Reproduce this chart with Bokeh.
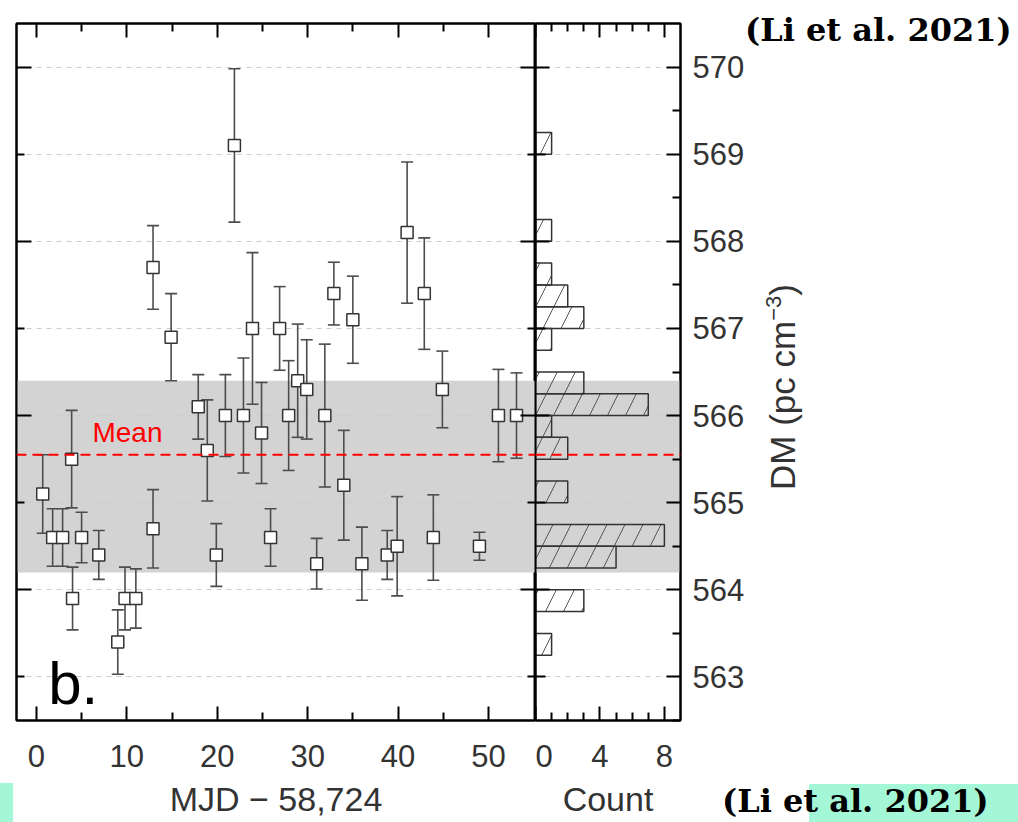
import numpy as np
from bokeh.plotting import figure
from bokeh.layouts import row
from bokeh.models import (BoxAnnotation, Span, Label, Whisker, TeeHead, ColumnDataSource,
                          LinearAxis, FixedTicker, Range1d, Grid, Div)
from bokeh.embed import file_html
from bokeh.resources import INLINE

# ---------------- data ----------------
mjd = [0.7, 1.8, 2.9, 3.9, 4.0, 5.0, 6.9, 9.0, 9.8, 11.0, 12.9, 12.9, 14.9, 17.9, 18.9,
       19.9, 20.9, 21.9, 22.9, 23.9, 24.9, 25.9, 26.9, 27.9, 28.9, 29.9, 31.0, 31.9,
       32.9, 34.0, 35.0, 36.0, 38.8, 39.9, 41.0, 42.9, 43.9, 44.9, 49.0, 51.1, 53.1]
dm = [565.1, 564.6, 564.6, 565.5, 563.9, 564.6, 564.4, 563.4, 563.9, 563.9, 564.7, 567.7,
      566.9, 566.1, 565.6, 564.4, 566.0, 569.1, 566.0, 567.0, 565.8, 564.6, 567.0, 566.0,
      566.4, 566.3, 564.3, 566.0, 567.4, 565.2, 567.1, 564.3, 564.4, 564.5, 568.1, 567.4,
      564.6, 566.3, 564.5, 566.0, 566.0]
dm_err = [0.45, 0.33, 0.33, 0.56, 0.36, 0.29, 0.28, 0.37, 0.36, 0.34, 0.45, 0.48,
          0.50, 0.37, 0.58, 0.36, 0.47, 0.88, 0.66, 0.87, 0.58, 0.33, 0.48, 0.63,
          0.65, 0.57, 0.29, 0.82, 0.36, 0.63, 0.50, 0.42, 0.28, 0.57, 0.81, 0.64,
          0.49, 0.44, 0.16, 0.53, 0.49]
dm_mean = 565.55
band_lo, band_hi = 564.2, 566.4
bin_width = 0.25
bin_edges = np.arange(563.0, 569.5 + 1e-9, bin_width)

mjd_major = [0, 10, 20, 30, 40, 50]
mjd_minor = [5, 15, 25, 35, 45]
dm_even = [564, 566, 568, 570]
dm_odd = [563, 565, 567, 569]
dm_labels = [563, 564, 565, 566, 567, 568, 569, 570]
dm_half = [562.5, 563.5, 564.5, 565.5, 566.5, 567.5, 568.5, 569.5]
count_major = [0, 4, 8]
count_minor = [1, 2, 3, 5, 6, 7]

counts, _ = np.histogram(dm, bins=bin_edges)
centers = (bin_edges[:-1] + bin_edges[1:]) / 2
nz = counts > 0
hist_src = ColumnDataSource(dict(y=centers[nz], right=counts[nz]))

src = ColumnDataSource(dict(x=mjd, y=dm,
                            lo=[d - e for d, e in zip(dm, dm_err)],
                            hi=[d + e for d, e in zip(dm, dm_err)]))

FONT = "Liberation Sans"
TXT = "#333333"
BAND = "#d3d3d3"
GRID = "#cccccc"
CYAN = "#a3f7d6"


def axis(ticks, minor, tin, minor_in, labels=False, **kw):
    ax = LinearAxis(ticker=FixedTicker(ticks=ticks, minor_ticks=minor), **kw)
    ax.major_tick_in = tin
    ax.major_tick_out = 0
    ax.minor_tick_in = minor_in
    ax.minor_tick_out = 0
    ax.axis_line_width = 2
    ax.axis_line_color = "black"
    ax.major_tick_line_width = 2
    ax.minor_tick_line_width = 2
    ax.major_tick_line_color = "black"
    ax.minor_tick_line_color = "black"
    if labels:
        ax.major_label_text_font = FONT
        ax.major_label_text_font_size = "31px"
        ax.major_label_text_color = TXT
    else:
        ax.major_label_overrides = {t: "" for t in ticks}
        ax.major_label_text_font_size = "1px"
        ax.major_label_standoff = 0
    return ax


def common(p):
    for g in p.grid:
        g.visible = False
    p.add_layout(BoxAnnotation(bottom=band_lo, top=band_hi, fill_color=BAND, fill_alpha=1,
                               line_alpha=0, level="underlay"))
    p.add_layout(Grid(dimension=1, ticker=FixedTicker(ticks=dm_labels),
                      grid_line_color=GRID, grid_line_dash="5 5", grid_line_width=1))
    p.outline_line_color = "black"
    p.outline_line_width = 2
    p.background_fill_color = "white"
    p.border_fill_color = "white"


# ---------------- main panel ----------------
pa = figure(width=535, height=822, x_range=Range1d(-2.2, 55.2), y_range=Range1d(562.5, 570.5),
            output_backend="svg", toolbar_location=None,
            x_axis_location=None, y_axis_location=None,
            min_border_left=16, min_border_right=0, min_border_top=23, min_border_bottom=102)
common(pa)

pa.add_layout(axis(dm_even, dm_odd, 15, 8), "left")
pa.add_layout(axis(dm_even, dm_odd, 15, 8), "right")
pa.add_layout(axis(mjd_major, mjd_minor, 14, 8), "above")
bx = axis(mjd_major, mjd_minor, 14, 8, labels=True)
bx.major_label_standoff = 24
bx.axis_label = "MJD \u2212 58,724"
bx.axis_label_text_font = FONT
bx.axis_label_text_font_size = "34px"
bx.axis_label_text_font_style = "normal"
bx.axis_label_text_color = TXT
bx.axis_label_standoff = 10
pa.add_layout(bx, "below")

pa.add_layout(Whisker(base="x", lower="lo", upper="hi", source=src, dimension="height",
                      line_color="#4d4d4d", line_width=1.6,
                      upper_head=TeeHead(size=12, line_color="#4d4d4d", line_width=1.6),
                      lower_head=TeeHead(size=12, line_color="#4d4d4d", line_width=1.6)))
pa.scatter("x", "y", source=src, marker="square", size=12, fill_color="white",
           line_color="#333333", line_width=1.5)
pa.add_layout(Span(location=dm_mean, dimension="width", line_color="red",
                   line_dash="10 6", line_width=2))
pa.add_layout(Label(x=6.2, y=565.81, text="Mean", text_color="red", text_font=FONT,
                    text_font_size="28px", text_baseline="alphabetic"))
pa.add_layout(Label(x=1.3, y=562.93, text="b.", text_color="black", text_font=FONT,
                    text_font_size="60px", text_baseline="alphabetic"))

# ---------------- histogram panel ----------------
pb = figure(width=483, height=822, x_range=Range1d(0, 9), y_range=pa.y_range,
            output_backend="svg", toolbar_location=None,
            x_axis_location=None, y_axis_location=None,
            min_border_left=0, min_border_right=338, min_border_top=23, min_border_bottom=102)
common(pb)

pb.add_layout(axis(dm_even, dm_odd, 14, 10), "left")
ry = axis(dm_labels, dm_half, 14, 8, labels=True)
ry.major_label_standoff = 12
pb.add_layout(ry, "right")
pb.add_layout(axis(count_major, count_minor, 14, 8), "above")
cx = axis(count_major, count_minor, 14, 8, labels=True)
cx.major_label_standoff = 24
cx.axis_label = "Count"
cx.axis_label_text_font = FONT
cx.axis_label_text_font_size = "34px"
cx.axis_label_text_font_style = "normal"
cx.axis_label_text_color = TXT
cx.axis_label_standoff = 10
pb.add_layout(cx, "below")

pb.hbar(y="y", right="right", left=0, height=bin_width, source=hist_src,
        fill_alpha=0, line_color="#333333", line_width=1.5,
        hatch_pattern="/", hatch_color="#555555", hatch_scale=36, hatch_weight=1)
pb.add_layout(Span(location=dm_mean, dimension="width", line_color="red",
                   line_dash="10 6", line_width=2))

layout = row(pa, pb)


# ---------------- texts outside the plot frames ----------------
def abs_div(html, left, top, w, h, z=10):
    return Div(text=html, width=w, height=h, margin=(0, 0, 0, 0),
               styles={"position": "absolute", "left": f"{left}px", "top": f"{top}px",
                       "z-index": str(z)})


def bg(w, h):
    return (f'<div style="width:{w}px;height:{h}px;background-color:{CYAN};"></div>')


cite = ('<div style="font-family:\'DejaVu Serif\';font-weight:bold;font-size:32px;'
        'line-height:32px;white-space:nowrap;color:black;">(Li et al. 2021)</div>')
dm_lab = ('<div style="width:220px;height:40px;line-height:40px;text-align:center;'
          'font-family:\'Liberation Sans\';font-size:35px;color:#333333;white-space:nowrap;'
          'transform:rotate(-90deg);transform-origin:50% 50%;">'
          'DM (pc cm<span style="font-size:22px;position:relative;top:-14px;">\u22123</span>)'
          '</div>')

extras = [
    abs_div(bg(209, 38), 809, 784, 209, 38, 5),
    abs_div(bg(13, 39), 0, 783, 13, 39, 5),
    abs_div(bg(1018, 4), 0, 818, 1018, 4, 5),
    abs_div(dm_lab, 673, 367, 220, 40),
    abs_div(cite, 745, 14, 290, 36),
    abs_div(cite, 722, 785, 290, 36),
]

open("out.html", "w").write(file_html([layout] + extras, INLINE))
